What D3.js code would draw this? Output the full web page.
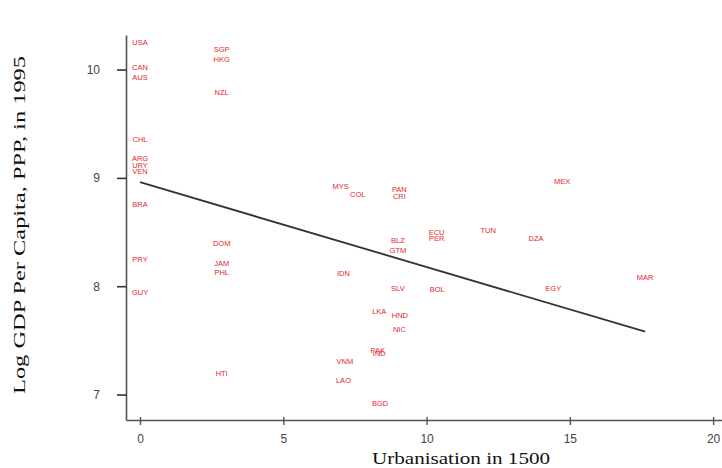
<!DOCTYPE html>
<html>
<head>
<meta charset="utf-8">
<script src="https://cdn.jsdelivr.net/npm/d3@7"></script>
<style>
  html, body { margin: 0; padding: 0; background: #fff; }
  svg { display: block; }
</style>
</head>
<body>
<svg id="chart" width="722" height="468"></svg>
<script>
// ---- Data ----
const countries = ["USA","CAN","AUS","CHL","ARG","URY","VEN","BRA","PRY","GUY",
                   "SGP","HKG","NZL","DOM","JAM","PHL","HTI",
                   "MYS","COL","PAN","CRI","ECU","PER","BLZ","GTM","IDN","SLV","BOL",
                   "LKA","HND","NIC","PAK","IND","VNM","LAO","BGD",
                   "TUN","DZA","MEX","EGY","MAR"];
const urbanisation = [0,0,0,0,0,0,0,0,0,0,
                      2.85,2.85,2.85,2.85,2.85,2.85,2.85,
                      7.0,7.6,9.05,9.05,10.35,10.35,9.0,9.0,7.1,9.0,10.37,
                      8.35,9.07,9.05,8.3,8.35,7.15,7.1,8.38,
                      12.15,13.82,14.73,14.42,17.63];
const logGdp = [10.25,10.02,9.93,9.36,9.18,9.12,9.06,8.76,8.25,7.94,
                10.19,10.09,9.79,8.40,8.21,8.13,7.20,
                8.92,8.85,8.89,8.83,8.50,8.44,8.42,8.33,8.12,7.98,7.97,
                7.77,7.73,7.60,7.41,7.38,7.31,7.13,6.92,
                8.52,8.44,8.97,7.98,8.08];
const fitX = [0, 17.63];
const fitY = [8.96, 7.58];
const xTicks = [0, 5, 10, 15, 20];
const yTicks = [7, 8, 9, 10];
const xTitle = "Urbanisation in 1500";
const yTitle = "Log GDP Per Capita, PPP, in 1995";

// ---- Layout ----
const svg = d3.select("#chart");
const x = d3.scaleLinear().domain([-0.489, 20.31]).range([126, 722]);
const y = d3.scaleLinear().domain([6.765, 10.319]).range([420, 35]);

const axisColor = "#555";
const tickFont = "'Liberation Sans', Arial, sans-serif";

// x axis
const gx = svg.append("g")
  .attr("transform", "translate(0,420)")
  .call(d3.axisBottom(x).tickValues(xTicks).tickFormat(d3.format("d"))
        .tickSizeInner(5).tickSizeOuter(0).tickPadding(9));
gx.select(".domain").attr("stroke", axisColor).attr("stroke-width", 1.6);
gx.selectAll(".tick line").attr("y1", -3).attr("stroke", axisColor).attr("stroke-width", 1.4);
gx.selectAll(".tick text").attr("fill", "#444").attr("font-size", 12).attr("font-family", tickFont);

// y axis
const gy = svg.append("g")
  .attr("transform", "translate(126,0)")
  .call(d3.axisLeft(y).tickValues(yTicks).tickFormat(d3.format("d"))
        .tickSizeInner(9).tickSizeOuter(0).tickPadding(17));
gy.select(".domain").attr("stroke", axisColor).attr("stroke-width", 1.6);
gy.selectAll(".tick line").attr("stroke", "#333").attr("stroke-width", 1.6);
gy.selectAll(".tick text").attr("fill", "#444").attr("font-size", 12).attr("font-family", tickFont);

// regression line
const fit = fitX.map((d, i) => ({x: d, y: fitY[i]}));
svg.append("path")
  .datum(fit)
  .attr("fill", "none")
  .attr("stroke", "#333")
  .attr("stroke-width", 1.8)
  .attr("d", d3.line().x(d => x(d.x)).y(d => y(d.y)));

// country labels
const pts = countries.map((c, i) => ({c, u: urbanisation[i], g: logGdp[i]}));
svg.append("g").selectAll("text")
  .data(pts)
  .join("text")
  .attr("x", d => x(d.u))
  .attr("y", d => y(d.g))
  .attr("dy", "0.35em")
  .attr("text-anchor", "middle")
  .attr("font-family", tickFont)
  .attr("font-size", 7.5)
  .attr("fill", "#e2262b")
  .text(d => d.c);

// axis titles
svg.append("text")
  .attr("x", 461).attr("y", 464)
  .attr("text-anchor", "middle")
  .attr("font-family", "'Liberation Serif', 'Times New Roman', serif")
  .attr("font-size", 16)
  .attr("textLength", 178)
  .attr("lengthAdjust", "spacingAndGlyphs")
  .attr("fill", "#111")
  .text(xTitle);

svg.append("text")
  .attr("transform", "translate(25,225) rotate(-90)")
  .attr("text-anchor", "middle")
  .attr("font-family", "'Liberation Serif', 'Times New Roman', serif")
  .attr("font-size", 16)
  .attr("textLength", 338)
  .attr("lengthAdjust", "spacingAndGlyphs")
  .attr("fill", "#111")
  .text(yTitle);
</script>
</body>
</html>
